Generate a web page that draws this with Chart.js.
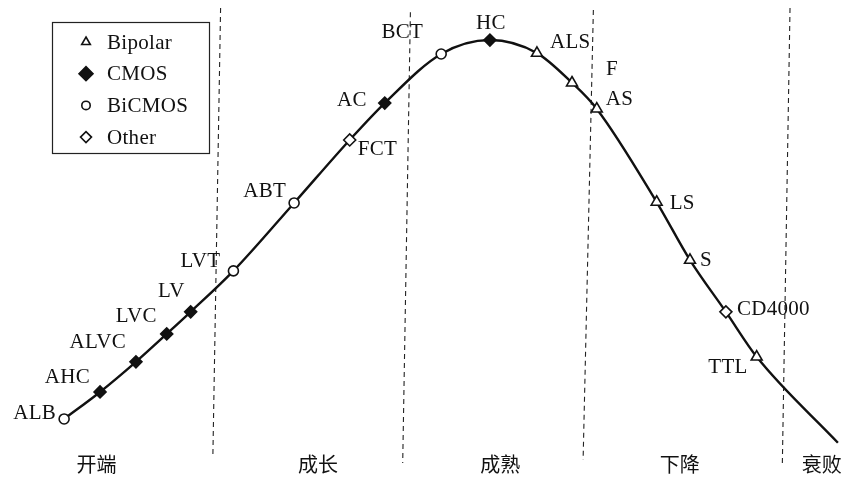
<!DOCTYPE html>
<html>
<head>
<meta charset="utf-8">
<script src="https://cdn.jsdelivr.net/npm/chart.js@4/dist/chart.umd.min.js"></script>
<style>
	html, body { margin: 0; padding: 0; background: #fff; }
	#wrap { position: relative; width: 855px; height: 479px; }
</style>
</head>
<body>
<div id="wrap"><canvas id="lifeCycleChart"></canvas></div>
<script>
// product life cycle of logic families
const stageNames = ['开端', '成长', '成熟', '下降', '衰败'];
const stageCenters = [11.3, 37.2, 58.5, 79.5, 96.1];

// stage boundaries, drawn slightly slanted as in the scan
const boundaryTopX = [25.8, 48.0, 69.4, 92.4];
const boundaryTopY = [98.2, 97.3, 97.8, 98.2];
const boundaryBottomX = [24.9, 47.1, 68.2, 91.5];
const boundaryBottomY = [-1.1, -2.9, -2.2, -3.3];

const familyNames = ['Bipolar', 'CMOS', 'BiCMOS', 'Other'];

const partNames = ['ALB', 'AHC', 'ALVC', 'LVC', 'LV', 'LVT', 'ABT', 'FCT', 'AC', 'BCT', 'HC', 'ALS', 'F', 'AS', 'LS', 'S', 'CD4000', 'TTL'];
const partFamily = ['BiCMOS', 'CMOS', 'CMOS', 'CMOS', 'CMOS', 'BiCMOS', 'BiCMOS', 'Other', 'CMOS', 'BiCMOS', 'CMOS', 'Bipolar', 'Bipolar', 'Bipolar', 'Bipolar', 'Bipolar', 'Other', 'Bipolar'];
const partTime = [7.5, 11.7, 15.9, 19.5, 22.3, 27.3, 34.4, 40.9, 45.0, 51.6, 57.3, 62.8, 66.9, 69.8, 76.8, 80.7, 84.9, 88.5];
const partSales = [6.9, 12.9, 19.6, 25.8, 30.7, 39.8, 54.9, 68.9, 77.1, 88.0, 91.1, 88.2, 81.6, 75.8, 55.1, 42.2, 30.7, 20.7];

// where the curve runs out after the last part
const tailTime = [98.0];
const tailSales = [1.6];

(() => {
	'use strict'

	const ctxEl = document.getElementById('lifeCycleChart');
	const ink = '#111';
	const serif = '"Liberation Serif", "Times New Roman", serif';

	const markerStyles = {
		Bipolar: { pointStyle: 'triangle', radius: 6.3, fill: '#fff', legendRadius: 5 },
		CMOS: { pointStyle: 'rectRot', radius: 6, fill: ink, legendRadius: 7 },
		BiCMOS: { pointStyle: 'circle', radius: 5, fill: '#fff', legendRadius: 4.2 },
		Other: { pointStyle: 'rectRot', radius: 6, fill: '#fff', legendRadius: 5.5 }
	};

	// label placement relative to each marker: dx, dy, align
	const labelPlacement = {
		ALB: [-8, -5, 'right'],
		AHC: [-10, -14, 'right'],
		ALVC: [-10, -19, 'right'],
		LVC: [-10, -17, 'right'],
		LV: [-6, -20, 'right'],
		LVT: [-13, -9, 'right'],
		ABT: [-8, -11, 'right'],
		FCT: [8, 10, 'left'],
		AC: [-18, -3, 'right'],
		BCT: [-18, -22, 'right'],
		HC: [1, -17, 'center'],
		ALS: [13, -11, 'left'],
		F: [34, -13, 'left'],
		AS: [9, -9, 'left'],
		LS: [13, 1, 'left'],
		S: [10, 0, 'left'],
		CD4000: [11, -2, 'left'],
		TTL: [-9, 11, 'right']
	};

	const curveData = partTime.map((t, i) => ({ x: t, y: partSales[i] }))
		.concat(tailTime.map((t, i) => ({ x: t, y: tailSales[i] })));

	const markerSets = familyNames.map((family) => {
		const style = markerStyles[family];
		return {
			type: 'scatter',
			label: family,
			data: partTime.map((t, i) => ({ x: t, y: partSales[i] })).filter((_p, i) => partFamily[i] === family),
			pointStyle: style.pointStyle,
			pointRadius: style.radius,
			pointBackgroundColor: style.fill,
			pointBorderColor: ink,
			pointBorderWidth: 1.6,
			order: 0
		};
	});

	const boundarySets = boundaryTopX.map((x, i) => ({
		type: 'line',
		label: 'boundary' + i,
		data: [{ x: x, y: boundaryTopY[i] }, { x: boundaryBottomX[i], y: boundaryBottomY[i] }],
		borderColor: '#222',
		borderWidth: 1.1,
		borderDash: [5, 4],
		pointRadius: 0,
		clip: false,
		order: 2
	}));

	const pointLabels = {
		id: 'pointLabels',
		afterDatasetsDraw(chart) {
			const ctx = chart.ctx;
			const xs = chart.scales.x;
			const ys = chart.scales.y;
			ctx.save();
			ctx.fillStyle = ink;
			ctx.font = '21px ' + serif;
			ctx.letterSpacing = '0.3px';
			ctx.textBaseline = 'middle';
			partNames.forEach((name, i) => {
				const place = labelPlacement[name];
				ctx.textAlign = place[2];
				ctx.fillText(name, xs.getPixelForValue(partTime[i]) + place[0], ys.getPixelForValue(partSales[i]) + place[1]);
			});
			ctx.restore();
		}
	};

	const boxLegend = {
		id: 'boxLegend',
		afterDraw(chart) {
			const ctx = chart.ctx;
			ctx.save();
			ctx.strokeStyle = '#222';
			ctx.lineWidth = 1.2;
			ctx.strokeRect(52.5, 22.5, 157, 131);
			ctx.font = '21px ' + serif;
			ctx.letterSpacing = '0.3px';
			ctx.textBaseline = 'middle';
			ctx.textAlign = 'left';
			familyNames.forEach((family, i) => {
				const style = markerStyles[family];
				const y = 42 + i * 31.7;
				ctx.fillStyle = style.fill;
				ctx.strokeStyle = ink;
				ctx.lineWidth = 1.6;
				Chart.helpers.drawPoint(ctx, {
					pointStyle: style.pointStyle,
					radius: style.legendRadius,
					borderWidth: 1.6,
					rotation: 0
				}, 86, y);
				ctx.fillStyle = ink;
				ctx.fillText(family, 107, y + 1);
			});
			ctx.restore();
		}
	};

	new Chart(ctxEl, {
		data: {
			datasets: markerSets.concat([
				{
					type: 'line',
					label: 'life cycle',
					data: curveData,
					borderColor: ink,
					borderWidth: 2.4,
					pointRadius: 0,
					cubicInterpolationMode: 'monotone',
					fill: false,
					order: 1
				}
			], boundarySets)
		},
		options: {
			responsive: true,
			maintainAspectRatio: false,
			animation: false,
			layout: {
				autoPadding: false,
				padding: { left: 0, right: 0, top: 0, bottom: 1 }
			},
			plugins: {
				legend: { display: false },
				tooltip: { enabled: false }
			},
			scales: {
				x: {
					type: 'linear',
					min: 0,
					max: 100,
					grid: { display: false, drawTicks: false },
					border: { display: false },
					afterBuildTicks: function(axis) {
						axis.ticks = stageCenters.map((v) => ({ value: v }));
					},
					ticks: {
						autoSkip: false,
						maxRotation: 0,
						padding: 2,
						color: ink,
						font: { family: '"Noto Sans CJK SC", sans-serif', size: 20 },
						callback: function(_value, index) {
							return stageNames[index];
						}
					}
				},
				y: {
					type: 'linear',
					display: false,
					min: 0,
					max: 100
				}
			}
		},
		plugins: [pointLabels, boxLegend]
	});
})()
</script>
</body>
</html>
